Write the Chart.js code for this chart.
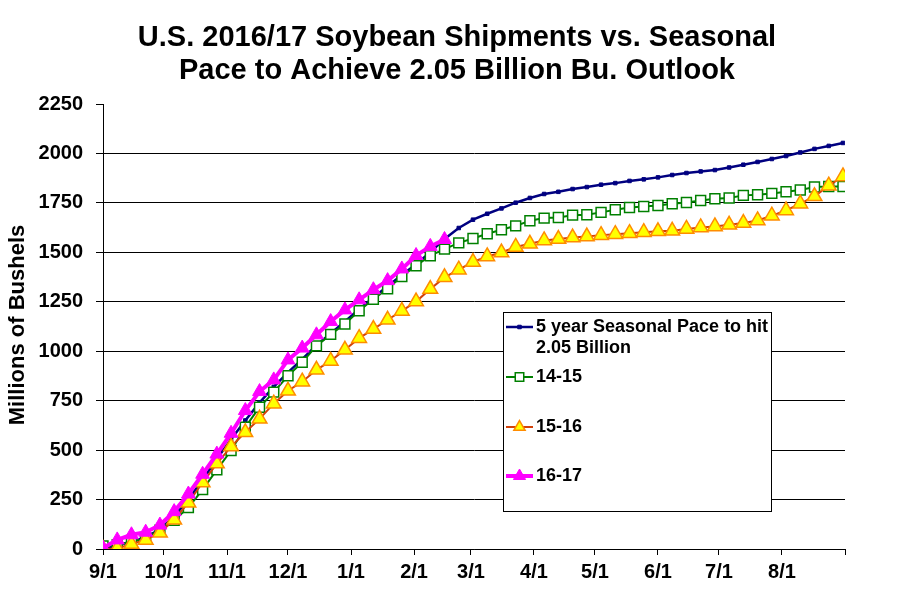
<!DOCTYPE html>
<html>
<head>
<meta charset="utf-8">
<script src="https://cdn.jsdelivr.net/npm/chart.js@4.4.1/dist/chart.umd.min.js"></script>
<style>
html,body{margin:0;padding:0;background:#fff;}
#wrap{width:897px;height:611px;position:relative;}
</style>
</head>
<body>
<div id="wrap"><canvas id="c" width="897" height="611"></canvas></div>
<script>
// ---- data ----
const titleLines = ['U.S. 2016/17 Soybean Shipments vs. Seasonal', 'Pace to Achieve 2.05 Billion Bu. Outlook'];
const yAxisTitle = 'Millions of Bushels';
const monthTickDays = [0, 30, 61, 91, 122, 153, 181, 212, 242, 273, 303, 334, 365];
const monthTickLabels = ['9/1','10/1','11/1','12/1','1/1','2/1','3/1','4/1','5/1','6/1','7/1','8/1',''];
const yTicks = [0,250,500,750,1000,1250,1500,1750,2000,2250];

const seriesNames = ['5 year Seasonal Pace to hit 2.05 Billion', '14-15', '15-16', '16-17'];

const pace5yr = [0,18,38,60,100,165,250,350,455,555,650,740,820,893,960,1030,1090,1150,1212,1272,1328,1385,1440,1500,1568,1623,1665,1695,1722,1751,1775,1795,1806,1820,1830,1842,1850,1861,1869,1879,1891,1901,1909,1916,1929,1943,1957,1972,1987,2005,2023,2038,2053];
const ship1415 = [15,22,35,55,95,145,210,300,400,498,616,717,793,876,944,1027,1085,1138,1205,1263,1316,1378,1432,1483,1516,1548,1570,1594,1614,1634,1660,1673,1676,1688,1690,1702,1715,1727,1732,1737,1746,1752,1762,1771,1775,1788,1791,1798,1806,1815,1830,1833,1833];
const ship1516 = [0,3,25,46,82,148,234,336,432,518,590,658,735,800,846,906,951,1007,1066,1112,1159,1204,1251,1314,1374,1412,1451,1479,1499,1527,1543,1560,1567,1575,1580,1587,1592,1597,1602,1606,1609,1618,1626,1631,1639,1648,1661,1685,1712,1746,1783,1837,1884];
const ship1617 = [5,46,72,85,121,189,278,378,480,585,700,796,855,956,1016,1083,1150,1209,1260,1311,1357,1416,1484,1530,1565];

// week offsets in days since 9/1
const toPts = arr => arr.map((v, i) => ({x: i * 7, y: v}));

const FONT = '"Liberation Sans", Arial, Helvetica, sans-serif';

const styles = [
  {color:'#000080', width:2.5, style:'rect', radius:2.5, fill:'#000080', bcolor:'#000080', bw:1},
  {color:'#008000', width:2, style:'rect', radius:7, fill:'#ffffff', bcolor:'#008000', bw:1.5},
  {color:'#D2420A', width:2, style:'triangle', radius:8.5, fill:'#FFFF00', bcolor:'#FF8C00', bw:1.5},
  {color:'#FF00FF', width:4, style:'triangle', radius:8, fill:'#FF00FF', bcolor:'#FF00FF', bw:1}
];
const seriesData = [pace5yr, ship1415, ship1516, ship1617];

const datasets = seriesData.map((arr, k) => ({
  label: seriesNames[k],
  data: toPts(arr),
  borderColor: styles[k].color,
  borderWidth: styles[k].width,
  pointStyle: styles[k].style,
  pointRadius: styles[k].radius,
  pointBackgroundColor: styles[k].fill,
  pointBorderColor: styles[k].bcolor,
  pointBorderWidth: styles[k].bw,
  pointHoverRadius: styles[k].radius,
  tension: 0,
  fill: false,
  order: 4 - k
}));

function drawMarker(ctx, st, x, y, r) {
  ctx.save();
  ctx.fillStyle = st.fill;
  ctx.strokeStyle = st.bcolor;
  ctx.lineWidth = st.bw;
  ctx.beginPath();
  if (st.style === 'rect') {
    const s = Math.SQRT1_2 * r;
    ctx.rect(x - s, y - s, 2 * s, 2 * s);
  } else {
    ctx.moveTo(x, y - r);
    ctx.lineTo(x + r * Math.sin(Math.PI / 3), y + r / 2);
    ctx.lineTo(x - r * Math.sin(Math.PI / 3), y + r / 2);
    ctx.closePath();
  }
  ctx.fill();
  ctx.stroke();
  ctx.restore();
}

const decor = {
  id: 'decor',
  afterDatasetsDraw(chart) {
    const ctx = chart.ctx;
    // legend
    ctx.save();
    const bx = 503.5, by = 312.5, bw = 268, bh = 199;
    ctx.fillStyle = '#fff';
    ctx.fillRect(bx, by, bw, bh);
    ctx.strokeStyle = '#000';
    ctx.lineWidth = 1;
    ctx.strokeRect(bx, by, bw, bh);
    const rows = [
      {lines:['5 year Seasonal Pace to hit', '2.05 Billion'], y:327},
      {lines:['14-15'], y:377},
      {lines:['15-16'], y:427},
      {lines:['16-17'], y:476}
    ];
    const mr = [2.5, 6, 6.5, 7];
    rows.forEach((row, k) => {
      const st = styles[k];
      ctx.strokeStyle = st.color;
      ctx.lineWidth = st.width;
      ctx.beginPath();
      ctx.moveTo(506, row.y);
      ctx.lineTo(533, row.y);
      ctx.stroke();
      drawMarker(ctx, st, 519.5, row.y, mr[k]);
      ctx.fillStyle = '#000';
      ctx.font = 'bold 18px ' + FONT;
      ctx.textBaseline = 'middle';
      ctx.textAlign = 'left';
      row.lines.forEach((t, j) => ctx.fillText(t, 536, row.y + j * 21));
    });
    ctx.restore();
  },
  afterDraw(chart) {
    const ctx = chart.ctx;
    ctx.save();
    ctx.fillStyle = '#000';
    ctx.font = 'bold 29px ' + FONT;
    ctx.textAlign = 'center';
    ctx.textBaseline = 'alphabetic';
    ctx.fillText(titleLines[0], 457, 46);
    ctx.fillText(titleLines[1], 457, 79);
    ctx.translate(18, 325);
    ctx.rotate(-Math.PI / 2);
    ctx.font = 'bold 22px ' + FONT;
    ctx.textBaseline = 'middle';
    ctx.fillText(yAxisTitle, 0, 0);
    ctx.restore();
  }
};

new Chart(document.getElementById('c'), {
  type: 'line',
  data: { datasets },
  options: {
    responsive: false,
    devicePixelRatio: 1,
    animation: false,
    layout: { padding: { top: 104, right: 52, left: 0, bottom: 0 } },
    plugins: { legend: { display: false }, title: { display: false }, tooltip: { enabled: false } },
    scales: {
      x: {
        type: 'linear',
        min: 0, max: 365,
        afterBuildTicks: s => { s.ticks = monthTickDays.map(v => ({ value: v })); },
        afterFit: s => { s.height = 62; },
        grid: { drawOnChartArea: false, drawTicks: true, tickLength: 6, tickColor: '#000', tickWidth: 1 },
        border: { color: '#000', width: 1 },
        ticks: {
          autoSkip: false, maxRotation: 0, padding: 5, color: '#000',
          font: { family: FONT, size: 20, weight: 'bold' },
          callback: (v) => { const i = monthTickDays.indexOf(v); return i >= 0 ? monthTickLabels[i] : ''; }
        }
      },
      y: {
        min: 0, max: 2250,
        afterBuildTicks: s => { s.ticks = yTicks.map(v => ({ value: v })); },
        afterFit: s => { s.width = 103; },
        grid: {
          color: c => (c.tick && c.tick.value === 2250) ? 'rgba(0,0,0,0)' : '#000',
          tickColor: '#000', tickLength: 7, lineWidth: 1
        },
        border: { color: '#000', width: 1 },
        ticks: {
          padding: 13, color: '#000',
          font: { family: FONT, size: 20, weight: 'bold' },
          callback: (v) => String(v)
        }
      }
    }
  },
  plugins: [decor]
});
</script>
</body>
</html>
